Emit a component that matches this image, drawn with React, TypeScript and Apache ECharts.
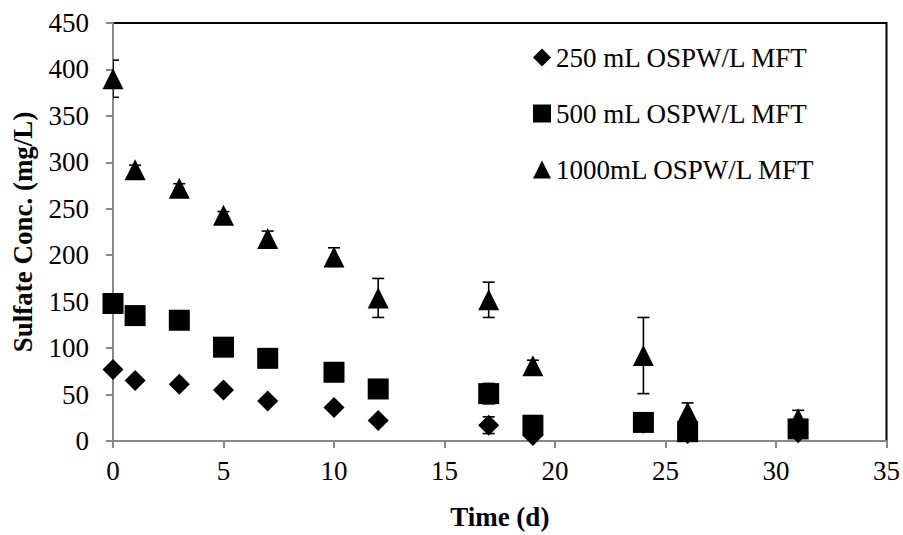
import React, { useEffect, useRef } from "react";
import * as echarts from "echarts";

const days = [0, 1, 3, 5, 7, 10, 12, 17, 19, 24, 26, 31];
const seriesNames = ["250 mL OSPW/L MFT", "500 mL OSPW/L MFT", "1000mL OSPW/L MFT"];
const conc250 = [77, 65, 61, 55, 43, 36, 22, 17, 6, 19, 8, 9];
const conc500 = [148, 135, 130, 101, 89, 74, 56, 51, 17, 20, 10, 13];
const conc1000 = [390, 292, 272, 243, 218, 198, 154, 152, 81, 92, 31, 24];
const err250 = [0, 0, 0, 0, 0, 0, 3, 9, 0, 0, 0, 0];
const err500 = [0, 0, 0, 0, 0, 0, 0, 11, 0, 0, 0, 0];
const err1000 = [20, 5, 5, 4, 8, 10, 21, 19, 6, 41, 10, 9];
const symbols = ["diamond", "rect", "triangle"];
const xTicks = { min: 0, max: 35, interval: 5 };
const yTicks = { min: 0, max: 450, interval: 50 };

const FONT = "'Liberation Serif', 'Times New Roman', serif";

export default function App() {
  const ref = useRef<HTMLDivElement>(null);
  useEffect(() => {
    if (!ref.current) return;
    const chart = echarts.init(ref.current, null, { renderer: "svg" });
    const values = [conc250, conc500, conc1000];
    const errs = [err250, err500, err1000];
    const scatter = values.map((vals, i) => ({
      name: seriesNames[i],
      type: "scatter",
      symbol: symbols[i],
      symbolSize: 21,
      itemStyle: { color: "#000", opacity: 1 },
      data: days.map((d, j) => [d, vals[j]]),
      z: 3,
    }));
    const errSeries = values.map((vals, i) => ({
      name: "err" + i,
      type: "custom",
      clip: true,
      z: 4,
      data: days
        .map((d, j) => [d, vals[j] - errs[i][j], vals[j] + errs[i][j], errs[i][j]])
        .filter((r) => r[3] > 0),
      renderItem: (params: any, api: any) => {
        const x = api.value(0);
        const lo = api.coord([x, api.value(1)]);
        const hi = api.coord([x, api.value(2)]);
        const w = 6;
        const left = Math.max(hi[0] - w, params.coordSys.x);
        const st = { stroke: "#000", lineWidth: 1.6 };
        return {
          type: "group",
          children: [
            { type: "line", shape: { x1: hi[0], y1: hi[1], x2: lo[0], y2: lo[1] }, style: st },
            { type: "line", shape: { x1: left, y1: hi[1], x2: hi[0] + w, y2: hi[1] }, style: st },
            { type: "line", shape: { x1: left, y1: lo[1], x2: lo[0] + w, y2: lo[1] }, style: st },
          ],
        };
      },
    }));
    chart.setOption({
      animation: false,
      grid: {
        left: 113,
        right: 14,
        top: 23,
        bottom: 86,
        show: true,
        borderColor: "#000",
        borderWidth: 2,
        backgroundColor: "transparent",
      },
      legend: {
        data: seriesNames,
        orient: "vertical",
        left: 528,
        top: 39,
        itemGap: 29,
        itemWidth: 18,
        itemHeight: 18,
        textStyle: { fontFamily: FONT, fontSize: 27, color: "#000" },
      },
      xAxis: {
        type: "value",
        min: xTicks.min,
        max: xTicks.max,
        interval: xTicks.interval,
        name: "Time (d)",
        nameLocation: "middle",
        nameGap: 62,
        nameTextStyle: { fontFamily: FONT, fontSize: 27, fontWeight: "bold", color: "#000" },
        axisLine: { lineStyle: { color: "#888", width: 2 } },
        axisTick: { show: true, length: 7, lineStyle: { color: "#888", width: 2 } },
        axisLabel: { fontFamily: FONT, fontSize: 27, color: "#000", margin: 16 },
        splitLine: { show: false },
      },
      yAxis: {
        type: "value",
        min: yTicks.min,
        max: yTicks.max,
        interval: yTicks.interval,
        name: "Sulfate Conc. (mg/L)",
        nameLocation: "middle",
        nameGap: 77,
        nameTextStyle: { fontFamily: FONT, fontSize: 27, fontWeight: "bold", color: "#000" },
        axisLine: { lineStyle: { color: "#888", width: 2 } },
        axisTick: { show: true, length: 7, lineStyle: { color: "#888", width: 2 } },
        axisLabel: { fontFamily: FONT, fontSize: 27, color: "#000", margin: 24 },
        splitLine: { show: false },
      },
      series: [...scatter, ...errSeries],
    });
    return () => chart.dispose();
  }, []);
  return (
    <div
      ref={ref}
      style={{ position: "fixed", left: 0, top: 0, width: 903, height: 535, background: "#fff" }}
    />
  );
}
